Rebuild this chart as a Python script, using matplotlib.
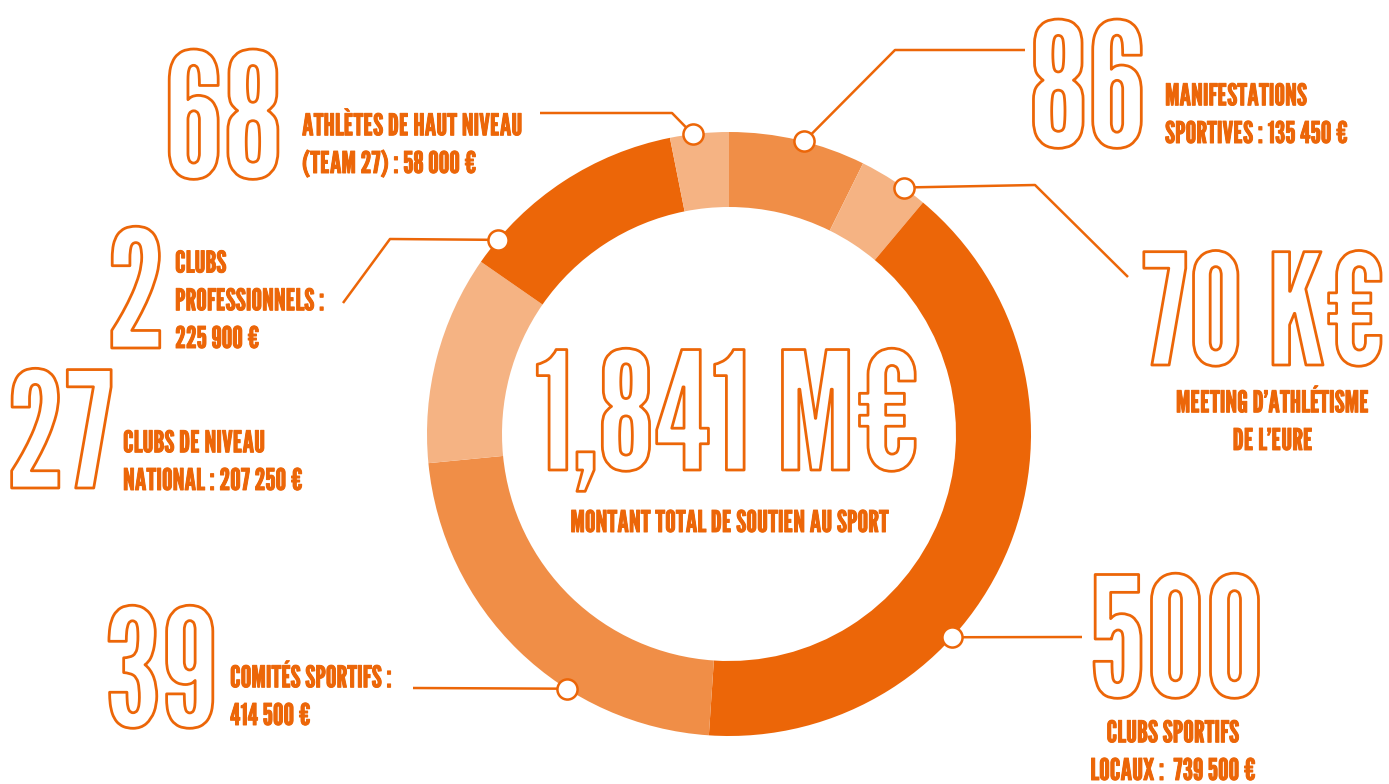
import matplotlib
matplotlib.use("Agg")
import numpy as np
import matplotlib.pyplot as plt
import matplotlib.patheffects as pe

# ---------------- data ----------------
categories = ["Manifestations sportives", "Meeting d'athlétisme de l'Eure", "Clubs sportifs locaux",
              "Comités sportifs", "Clubs de niveau national", "Clubs professionnels",
              "Athlètes de haut niveau (Team 27)"]
amounts = [135450, 70000, 739500, 414500, 207250, 225900, 58000]
counts = ["86", "70 K€", "500", "39", "27", "2", "68"]
labels = [
    "MANIFESTATIONS\nSPORTIVES : 135 450 €",
    "MEETING D’ATHLÉTISME\nDE L’EURE",
    "CLUBS SPORTIFS\nLOCAUX :  739 500 €",
    "COMITÉS SPORTIFS :\n414 500 €",
    "CLUBS DE NIVEAU\nNATIONAL : 207 250 €",
    "CLUBS\nPROFESSIONNELS :\n225 900 €",
    "ATHLÈTES DE HAUT NIVEAU\n(TEAM 27) : 58 000 €",
]
total_value = "1,841 M€"
total_caption = "MONTANT TOTAL DE SOUTIEN AU SPORT"

# ---------------- style / layout ----------------
DARK = "#EC6608"
MED = "#F08E47"
LIGHT = "#F5B383"
wedge_colors = [MED, LIGHT, DARK, MED, LIGHT, DARK, LIGHT]
FONT = ["League Gothic", "DejaVu Sans"]

W, H = 1389, 784
CX, CY, R, RW = 729, 434, 302, 75

# marker angle (deg, clockwise from top) and leader waypoints (pixels)
marker_angles = [14.4, 35.3, 132.3, 212.5, 0, 310.0, 353.1]
leaders = [
    [(895, 50), (1025, 50)],
    [(1035, 185), (1128, 277)],
    [(1082, 637)],
    [(413, 688)],
    None,
    [(390, 239), (343, 303)],
    [(672, 113), (540, 113)],
]
# big number (x, baseline, size, ha)
count_pos = [(1029, 147, 124, "left"), (1386, 365, 111, "right"), (1089, 697, 120, "left"),
             (104, 727, 118, "left"), (6, 488, 116, "left"), (106, 348, 118, "left"),
             (164, 178, 125, "left")]
# label (x, last-line baseline, ha)
label_pos = [(1165, 143, "left"), (1273, 450, "center"), (1173, 780, "center"), (230, 725, "left"),
             (123, 490, "left"), (175, 348, "left"), (302, 173, "left")]

BIG_TOTAL = 118
SMALL = 21.5
LS = 1.38

fig = plt.figure(figsize=(W / 100, H / 100), dpi=100)
ax = fig.add_axes([0, 0, 1, 1])
ax.pie(amounts, colors=wedge_colors, startangle=270, counterclock=True, radius=R,
       center=(CX, CY), wedgeprops=dict(width=RW, linewidth=0), frame=True)
ax.set_xlim(0, W)
ax.set_ylim(H, 0)
ax.set_aspect("auto")
ax.axis("off")

big_fx = [pe.Stroke(linewidth=2.0, foreground=DARK)]
small_fx = [pe.withStroke(linewidth=0.7, foreground=DARK)]

for i in range(len(amounts)):
    if leaders[i] is not None:
        th = np.deg2rad(270 + marker_angles[i])
        mx, my = CX + R * np.cos(th), CY + R * np.sin(th)
        pts = [(mx, my)] + leaders[i]
        xs, ys = zip(*pts)
        ax.plot(xs, ys, color=DARK, lw=1.8, solid_capstyle="butt", zorder=3)
        ax.plot([mx], [my], marker="o", ms=14.5, mfc="white", mec=DARK, mew=1.8, zorder=4)
    x, y, s, cha = count_pos[i]
    ax.text(x, y, counts[i], family=FONT, fontsize=s, color="white", ha=cha, va="baseline",
            path_effects=big_fx, zorder=5)
    lx, ly, ha = label_pos[i]
    ax.text(lx, ly, labels[i], family=FONT, fontsize=SMALL, color=DARK, ha=ha, va="baseline",
            multialignment=ha, linespacing=LS, path_effects=small_fx, zorder=5)

ax.text(534, 470, total_value, family=FONT, fontsize=BIG_TOTAL, color="white", ha="left", va="baseline",
        path_effects=big_fx, zorder=5)
ax.text(730, 532, total_caption, family=FONT, fontsize=SMALL, color=DARK, ha="center", va="baseline",
        path_effects=small_fx, zorder=5)

fig.savefig("out.png", dpi=100)
